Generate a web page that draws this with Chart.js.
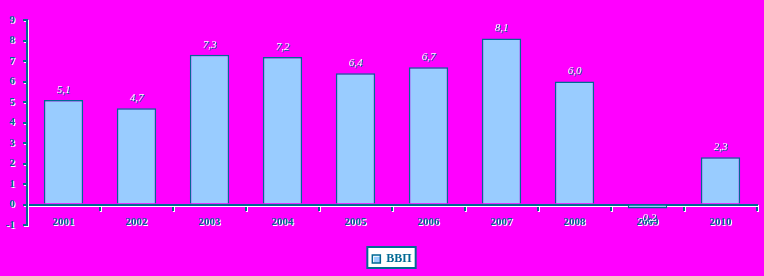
<!DOCTYPE html>
<html>
<head>
<meta charset="utf-8">
<script src="https://cdn.jsdelivr.net/npm/chart.js@4"></script>
<style>
  html, body { margin: 0; padding: 0; background: #ff00ff; }
  #wrap { width: 764px; height: 276px; }
</style>
</head>
<body>
<div id="wrap"><canvas id="gdp" width="764" height="276"></canvas></div>
<script>
const years = ['2001','2002','2003','2004','2005','2006','2007','2008','2009','2010'];
const gdp = [5.1, 4.7, 7.3, 7.2, 6.4, 6.7, 8.1, 6.0, -0.2, 2.3];
const gdpText = ['5,1','4,7','7,3','7,2','6,4','6,7','8,1','6,0','-0,2','2,3'];

const teal = '#006a94';
const font = 'Liberation Serif';

// white "emboss" under axis lines and tick labels, plus legend panel
const shade = {
    id: 'shade',
    beforeDraw(chart) {
        const ctx = chart.ctx;
        const hb = chart.legend && chart.legend.legendHitBoxes && chart.legend.legendHitBoxes[0];
        if (hb) {
            ctx.save();
            ctx.fillStyle = '#ffffff';
            ctx.strokeStyle = teal;
            ctx.lineWidth = 2;
            ctx.fillRect(hb.left - 5, hb.top - 6, hb.width + 9, hb.height + 9);
            ctx.strokeRect(hb.left - 5, hb.top - 6, hb.width + 9, hb.height + 9);
            ctx.restore();
        }
        ctx.save();
        ctx.shadowColor = '#ffffff';
        ctx.shadowOffsetX = 1;
        ctx.shadowOffsetY = 1;
        ctx.shadowBlur = 0;
    },
    beforeDatasetsDraw(chart) {
        chart.ctx.restore();
    }
};

const valueLabels = {
    id: 'valueLabels',
    afterDatasetsDraw(chart) {
        const ctx = chart.ctx;
        const meta = chart.getDatasetMeta(0);
        ctx.save();
        ctx.font = 'italic 11px "' + font + '"';
        ctx.textAlign = 'center';
        ctx.textBaseline = 'middle';
        ctx.fillStyle = '#ffffff';
        ctx.shadowColor = teal;
        ctx.shadowOffsetX = 1;
        ctx.shadowOffsetY = 1;
        meta.data.forEach((bar, i) => {
            const y = gdp[i] >= 0 ? bar.y - 10 : bar.y + 10;
            ctx.fillText(gdpText[i], bar.x, y);
        });
        ctx.restore();
    }
};

new Chart(document.getElementById('gdp'), {
    type: 'bar',
    data: {
        labels: years,
        datasets: [{
            label: 'ВВП',
            data: gdp,
            backgroundColor: '#99ccff',
            borderColor: teal,
            borderWidth: 1.5,
            barPercentage: 0.54,
            categoryPercentage: 1
        }]
    },
    options: {
        responsive: false,
        animation: false,
        layout: { padding: { top: 20, right: 7, left: 0, bottom: 1 } },
        plugins: {
            legend: {
                position: 'bottom',
                fullSize: false,
                title: { display: true, text: '', font: { size: 10 }, padding: { top: 0, bottom: 8 } },
                labels: {
                    color: teal,
                    font: { family: font, size: 12, weight: 'bold' },
                    boxWidth: 8,
                    boxHeight: 8,
                    padding: 8
                }
            },
            tooltip: { enabled: false }
        },
        scales: {
            x: {
                position: { y: 0 },
                grid: { offset: true, drawOnChartArea: false, color: teal, tickLength: 5, lineWidth: 2 },
                border: { color: teal, width: 2 },
                ticks: { color: teal, font: { family: font, size: 11, weight: 'bold' }, padding: 6, maxRotation: 0 }
            },
            y: {
                min: -1,
                max: 9,
                afterFit(s) { s.width = 27; },
                grid: { drawOnChartArea: false, color: teal, tickLength: 4, lineWidth: 2 },
                border: { color: teal, width: 2 },
                ticks: { stepSize: 1, color: teal, font: { family: font, size: 11, weight: 'bold' }, padding: 8 }
            }
        }
    },
    plugins: [shade, valueLabels]
});
</script>
</body>
</html>
